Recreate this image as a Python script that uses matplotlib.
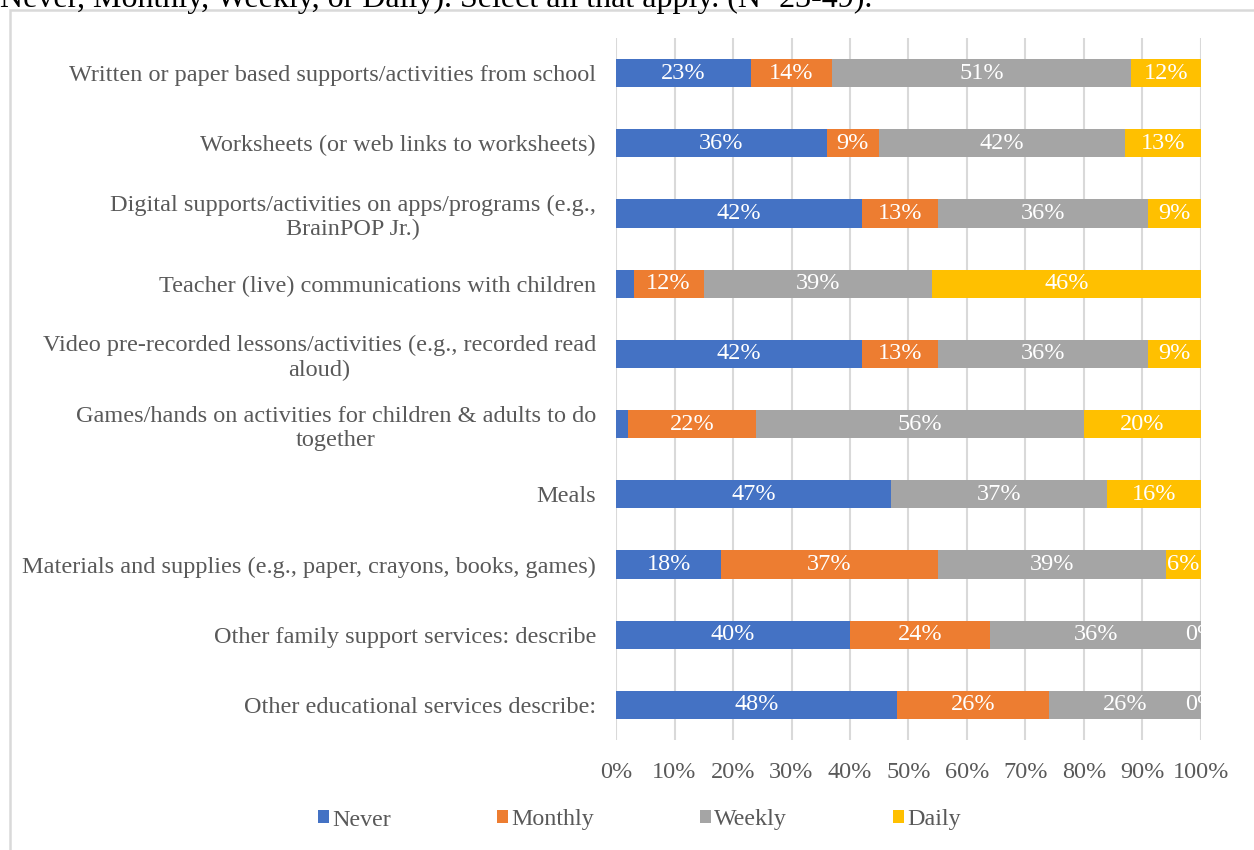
import numpy as np
import matplotlib.pyplot as plt
from matplotlib.patches import Rectangle

plt.rcParams['font.family'] = ['Liberation Serif', 'DejaVu Serif']

categories = [
    "Written or paper based supports/activities from school",
    "Worksheets (or web links to worksheets)",
    "Digital supports/activities on apps/programs (e.g.,\nBrainPOP Jr.)",
    "Teacher (live) communications with children",
    "Video pre-recorded lessons/activities (e.g., recorded read\naloud)",
    "Games/hands on activities for children & adults to do\ntogether",
    "Meals",
    "Materials and supplies (e.g., paper, crayons, books, games)",
    "Other family support services: describe",
    "Other educational services describe:",
]
never = [23, 36, 42, 3, 42, 2, 47, 18, 40, 48]
monthly = [14, 9, 13, 12, 13, 22, np.nan, 37, 24, 26]
weekly = [51, 42, 36, 39, 36, 56, 37, 39, 36, 26]
daily = [12, 13, 9, 46, 9, 20, 16, 6, 0, 0]

series = ["Never", "Monthly", "Weekly", "Daily"]
colors = ["#4472C4", "#ED7D31", "#A5A5A5", "#FFC000"]
xticks = np.arange(0, 101, 10)

fig = plt.figure(figsize=(12.54, 8.5), dpi=100)
ax = fig.add_axes([616 / 1254, 110 / 850, 585 / 1254, 702 / 850])

# frame around the chart and the clipped line of text above it
fig.patches.append(Rectangle((10 / 1254, -0.05), 1.1, 1 - 10 / 850 + 0.05,
                             transform=fig.transFigure, fill=False,
                             edgecolor="#d9d9d9", lw=1.8))
fig.text(0, 1 - 7 / 850, "Never, Monthly, Weekly, or Daily). Select all that apply. (N=23-49).",
         ha="left", va="baseline", fontsize=23, color="black")

y = np.arange(len(categories))
left = np.zeros(len(categories))
for name, vals, c in zip(series, [never, monthly, weekly, daily], colors):
    v = np.array(vals, dtype=float)
    w = np.nan_to_num(v)
    ax.barh(y, w, left=left, height=0.4, color=c, label=name, zorder=2)
    for i in range(len(v)):
        if np.isnan(v[i]) or 0 < v[i] < 4:
            continue
        ax.text(left[i] + w[i] / 2, y[i], f"{v[i]:.0f}%", ha="center", va="center",
                color="white", fontsize=17.5, zorder=3, clip_on=True)
    left += w

ax.set_xlim(0, 100)
ax.set_ylim(len(categories) - 0.5, -0.5)
ax.set_xticks(xticks)
ax.set_xticklabels([f"{t}%" for t in xticks])
ax.set_yticks(y)
ax.set_yticklabels(categories)
for t in ax.get_yticklabels():
    t.set_multialignment("center")
ax.tick_params(axis="both", length=0, labelsize=17.5, colors="#595959")
ax.tick_params(axis="y", pad=14.4)
ax.tick_params(axis="x", pad=16)
ax.grid(axis="x", color="#d9d9d9", lw=1.5, zorder=0)
for s in ax.spines.values():
    s.set_visible(False)

fig.legend(loc="center", bbox_to_anchor=(0.51, 30 / 850), ncol=4, frameon=False,
           fontsize=17.3, labelcolor="#595959", handlelength=0.45, handleheight=0.45,
           handletextpad=0.15, columnspacing=4.4)

fig.savefig("out.png", dpi=100)
